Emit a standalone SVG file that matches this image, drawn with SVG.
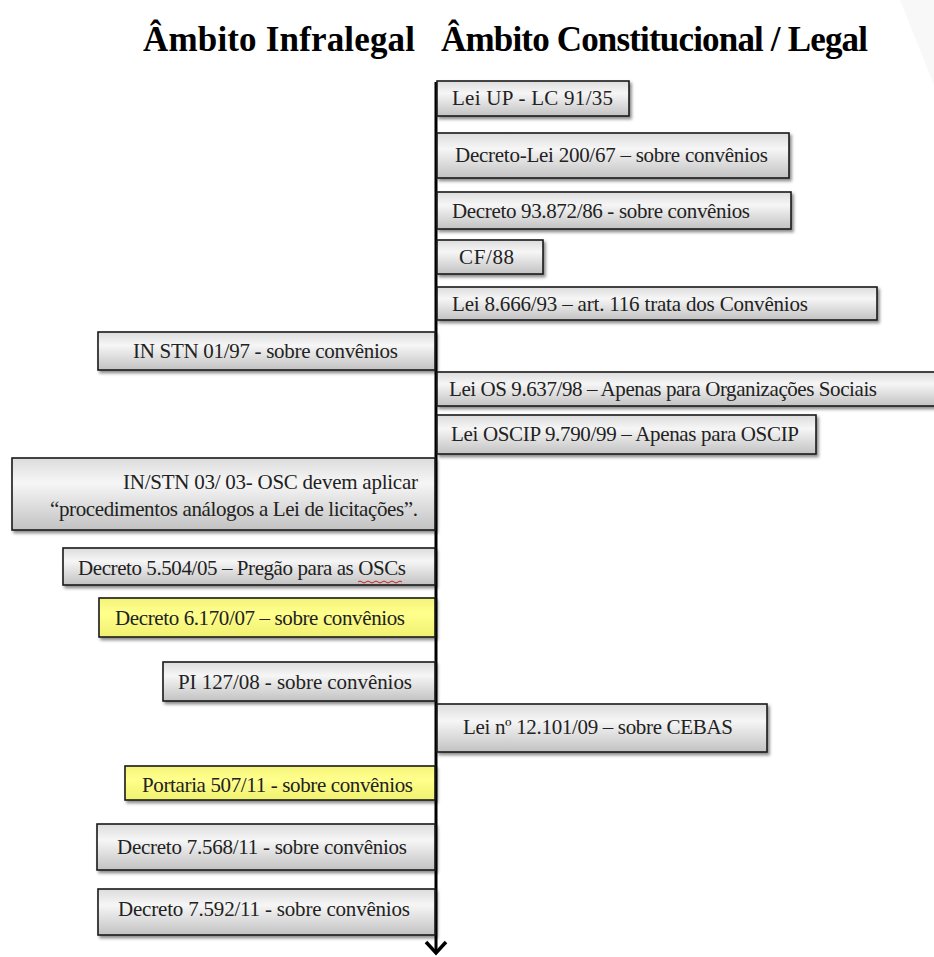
<svg xmlns="http://www.w3.org/2000/svg" width="934" height="957" viewBox="0 0 934 957">
<defs>
<linearGradient id="g" x1="0" y1="0" x2="0" y2="1">
<stop offset="0" stop-color="#dcdcdc"/>
<stop offset="0.35" stop-color="#f6f6f6"/>
<stop offset="1" stop-color="#c2c2c2"/>
</linearGradient>
<linearGradient id="y" x1="0" y1="0" x2="0" y2="1">
<stop offset="0" stop-color="#f4f47a"/>
<stop offset="0.4" stop-color="#ffff8c"/>
<stop offset="1" stop-color="#f0f070"/>
</linearGradient>
<filter id="sh" x="-5%" y="-20%" width="110%" height="150%">
<feDropShadow dx="2" dy="2.5" stdDeviation="1.5" flood-color="#000" flood-opacity="0.45"/>
</filter>
<marker id="arr" markerWidth="16" markerHeight="24" refX="13" refY="12" orient="auto" markerUnits="userSpaceOnUse" viewBox="0 0 16 24">
<path d="M2,2 L13,12 L2,22" fill="none" stroke="#000" stroke-width="3.5"/>
</marker>
</defs>
<style>
.box{fill:url(#g);stroke:#1a1a1a;stroke-width:1.6;filter:url(#sh)}
.ybox{fill:url(#y);stroke:#1a1a1a;stroke-width:1.6;filter:url(#sh)}
.t{font-family:"Liberation Serif","Times New Roman",serif;font-size:21px;fill:#222}
.h{font-family:"Liberation Serif","Times New Roman",serif;font-size:35px;font-weight:bold;fill:#000}
</style>
<rect width="934" height="957" fill="#fff"/>
<path d="M900,0 L934,0 L934,85 Z" fill="#f8f8f8"/>
<text class="h" x="143" y="51" textLength="272">Âmbito Infralegal</text>
<text class="h" x="441" y="51" textLength="427">Âmbito Constitucional / Legal</text>

<g id="connectors">
<line x1="436" y1="82" x2="436" y2="953" stroke="#000" stroke-width="3" marker-end="url(#arr)"/>
</g>

<g id="n1"><rect class="box" x="437" y="81" width="192" height="35"/><text class="t" x="452" y="105" textLength="161">Lei  UP  - LC 91/35</text></g>
<g id="n2"><rect class="box" x="437" y="133" width="352" height="45"/><text class="t" x="455" y="162" textLength="313">Decreto-Lei  200/67 – sobre convênios</text></g>
<g id="n3"><rect class="box" x="437" y="192" width="354" height="37"/><text class="t" x="452" y="218" textLength="298">Decreto 93.872/86 - sobre convênios</text></g>
<g id="n4"><rect class="box" x="437" y="240" width="106" height="34"/><text class="t" x="459" y="264" textLength="55">CF/88</text></g>
<g id="n5"><rect class="box" x="437" y="287" width="440" height="33"/><text class="t" x="452" y="311" textLength="356">Lei  8.666/93 – art. 116 trata dos Convênios</text></g>
<g id="n6"><rect class="box" x="98" y="332" width="337" height="38"/><text class="t" x="133" y="358" textLength="265">IN STN 01/97 - sobre convênios</text></g>
<g id="n7"><rect class="box" x="437" y="372" width="505" height="34"/><text class="t" x="449" y="396" textLength="428">Lei OS 9.637/98 – Apenas para Organizações  Sociais</text></g>
<g id="n8"><rect class="box" x="437" y="415" width="379" height="39"/><text class="t" x="451" y="441" textLength="348">Lei  OSCIP 9.790/99 – Apenas para OSCIP</text></g>
<g id="n9"><rect class="box" x="12" y="458" width="423" height="72"/><text class="t" x="418" y="489" text-anchor="end" textLength="295">IN/STN 03/ 03-  OSC devem aplicar</text><text class="t" x="418" y="516" text-anchor="end" textLength="368">“procedimentos  análogos a Lei de licitações”.</text></g>
<g id="n10"><rect class="box" x="63" y="548" width="372" height="37"/><text class="t" x="78" y="575" textLength="328">Decreto 5.504/05 – Pregão para as OSCs</text><path d="M358,582 q2,-2 4,0 t4,0 t4,0 t4,0 t4,0 t4,0 t4,0 t4,0 t4,0 t4,0 t4,0" fill="none" stroke="#d02020" stroke-width="1"/></g>
<g id="n11"><rect class="ybox" x="99" y="598" width="336" height="39"/><text class="t" x="115" y="625" textLength="290">Decreto 6.170/07 – sobre convênios</text></g>
<g id="n12"><rect class="box" x="163" y="662" width="272" height="39"/><text class="t" x="178" y="689" textLength="234">PI 127/08  - sobre convênios</text></g>
<g id="n13"><rect class="box" x="437" y="704" width="330" height="48"/><text class="t" x="463" y="734" textLength="270">Lei nº 12.101/09 – sobre CEBAS</text></g>
<g id="n14"><rect class="ybox" x="125" y="766" width="310" height="34"/><text class="t" x="142" y="792" textLength="271">Portaria 507/11 - sobre convênios</text></g>
<g id="n15"><rect class="box" x="97" y="824" width="338" height="46"/><text class="t" x="117" y="854" textLength="290">Decreto  7.568/11 - sobre convênios</text></g>
<g id="n16"><rect class="box" x="98" y="889" width="337" height="46"/><text class="t" x="118" y="916" textLength="292">Decreto  7.592/11 - sobre convênios</text></g>
</svg>
